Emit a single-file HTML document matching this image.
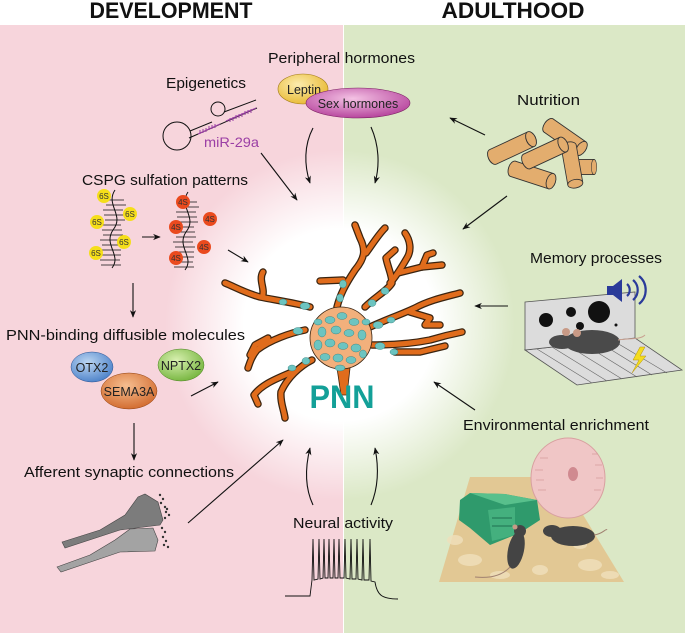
<!DOCTYPE html>
<html><head><meta charset="utf-8"><style>
html,body{margin:0;padding:0;background:#fff;}
svg{display:block;font-family:"Liberation Sans","DejaVu Sans",sans-serif;}
.l{font-size:14.5px;fill:#111;}
</style></head><body>
<svg width="685" height="634" viewBox="0 0 685 634" xmlns="http://www.w3.org/2000/svg">
<defs>
<radialGradient id="glow" cx="340" cy="325" r="175" gradientUnits="userSpaceOnUse">
<stop offset="0" stop-color="#fff" stop-opacity="1"/>
<stop offset="0.55" stop-color="#fff" stop-opacity="1"/>
<stop offset="1" stop-color="#fff" stop-opacity="0"/>
</radialGradient>
<radialGradient id="gLep" cx="0.4" cy="0.35" r="0.7"><stop offset="0" stop-color="#fcecae"/><stop offset="1" stop-color="#e8b830"/></radialGradient>
<radialGradient id="gSex" cx="0.45" cy="0.35" r="0.7"><stop offset="0" stop-color="#f4c2e4"/><stop offset="1" stop-color="#b23c98"/></radialGradient>
<radialGradient id="gOtx" cx="0.4" cy="0.35" r="0.7"><stop offset="0" stop-color="#bcd6f2"/><stop offset="1" stop-color="#4a80c8"/></radialGradient>
<radialGradient id="gSem" cx="0.45" cy="0.35" r="0.7"><stop offset="0" stop-color="#f6be90"/><stop offset="1" stop-color="#d0672a"/></radialGradient>
<radialGradient id="gNp" cx="0.4" cy="0.35" r="0.7"><stop offset="0" stop-color="#d8f0b0"/><stop offset="1" stop-color="#74b43c"/></radialGradient>
<marker id="ar" viewBox="0 0 10 10" refX="9" refY="5" markerWidth="7" markerHeight="7" orient="auto"><path d="M0,1 L10,5 L0,9 L3,5z" fill="#111"/></marker>
<g id="cyl"><ellipse cx="-20" cy="0" rx="4.5" ry="8" fill="#e3ad6e" stroke="#333" stroke-width="0.9"/><rect x="-20" y="-8" width="40" height="16" fill="#e3ad6e"/><path d="M-20,-8 H20 M-20,8 H20" stroke="#333" stroke-width="0.9"/><ellipse cx="20" cy="0" rx="4.5" ry="8" fill="#e3ad6e" stroke="#333" stroke-width="0.9"/></g>
</defs>
<rect width="685" height="634" fill="#fff"/>
<rect x="0" y="25" width="343" height="608" fill="#f7d5dc"/>
<rect x="344" y="25" width="341" height="608" fill="#dbe8c6"/>
<rect x="0" y="25" width="685" height="608" fill="url(#glow)"/>

<text x="171" y="18" text-anchor="middle" font-size="22" font-weight="bold" fill="#111" textLength="163" lengthAdjust="spacingAndGlyphs">DEVELOPMENT</text>
<text x="513" y="18" text-anchor="middle" font-size="22" font-weight="bold" fill="#111" textLength="143" lengthAdjust="spacingAndGlyphs">ADULTHOOD</text>

<text class="l" x="268" y="63" textLength="147" lengthAdjust="spacingAndGlyphs">Peripheral hormones</text>
<text class="l" x="166" y="88" textLength="80" lengthAdjust="spacingAndGlyphs">Epigenetics</text>
<text class="l" x="517" y="105" textLength="63" lengthAdjust="spacingAndGlyphs">Nutrition</text>
<text class="l" x="82" y="185" textLength="166" lengthAdjust="spacingAndGlyphs">CSPG sulfation patterns</text>
<text class="l" x="530" y="263" textLength="132" lengthAdjust="spacingAndGlyphs">Memory processes</text>
<text class="l" x="6" y="340" textLength="239" lengthAdjust="spacingAndGlyphs">PNN-binding diffusible molecules</text>
<text class="l" x="463" y="430" textLength="186" lengthAdjust="spacingAndGlyphs">Environmental enrichment</text>
<text class="l" x="24" y="477" textLength="210" lengthAdjust="spacingAndGlyphs">Afferent synaptic connections</text>
<text class="l" x="293" y="528" textLength="100" lengthAdjust="spacingAndGlyphs">Neural activity</text>

<ellipse cx="303" cy="89" rx="25" ry="15" fill="url(#gLep)" stroke="#a07818" stroke-width="0.6"/>
<text x="287" y="94" font-size="12.5" fill="#222">Leptin</text>
<ellipse cx="358" cy="103" rx="52" ry="15" fill="url(#gSex)" stroke="#7a2060" stroke-width="0.6"/>
<text x="358" y="108" font-size="12.5" fill="#222" text-anchor="middle">Sex hormones</text>

<g fill="none" stroke="#111" stroke-width="1">
<circle cx="177" cy="136" r="14"/>
<path d="M190,131 L212,122"/><path d="M189,138 L257,108"/>
<circle cx="218" cy="109" r="7"/>
<path d="M224,112 L256,100"/>
</g>
<g stroke="#9b3fa5" stroke-width="1">
<path d="M198,134 L220,124 M226,121 L256,108"/>
<path d="M200,130v4 M203,129v4 M206,128v4 M209,126v4 M212,125v4 M215,124v4 M230,118v4 M233,117v4 M236,115v4 M239,114v4 M242,113v4 M245,111v4 M248,110v4 M251,109v4"/>
</g>
<text x="204" y="147" font-size="14" fill="#9b3fa5" textLength="55" lengthAdjust="spacingAndGlyphs">miR-29a</text>

<g stroke="#111" stroke-width="1" fill="none">
<path d="M115,190 C105,205 125,215 113,230 C103,245 122,255 112,268"/>
<path d="M188,192 C178,207 198,217 186,232 C176,247 195,257 185,270"/>
</g>
<g stroke="#111" stroke-width="0.8">
<path d="M104,200h20 M106,205h20 M103,210h20 M104,215h20 M105,220h20 M101,225h20 M102,230h20 M103,235h20 M100,240h20 M102,245h20 M101,250h20 M101,255h20 M100,260h20 M101,265h20"/>
<path d="M177,202h20 M179,207h20 M176,212h20 M177,217h20 M178,222h20 M174,227h20 M175,232h20 M176,237h20 M173,242h20 M175,247h20 M174,252h20 M174,257h20 M173,262h20 M174,267h20"/>
</g>
<g font-size="8" text-anchor="middle" fill="#333">
<circle cx="104" cy="196" r="7" fill="#f5de1a"/><text x="104" y="199">6S</text>
<circle cx="130" cy="214" r="7" fill="#f5de1a"/><text x="130" y="217">6S</text>
<circle cx="97" cy="222" r="7" fill="#f5de1a"/><text x="97" y="225">6S</text>
<circle cx="124" cy="242" r="7" fill="#f5de1a"/><text x="124" y="245">6S</text>
<circle cx="96" cy="253" r="7" fill="#f5de1a"/><text x="96" y="256">6S</text>
<circle cx="183" cy="202" r="7" fill="#ea4a1e"/><text x="183" y="205">4S</text>
<circle cx="210" cy="219" r="7" fill="#ea4a1e"/><text x="210" y="222">4S</text>
<circle cx="176" cy="227" r="7" fill="#ea4a1e"/><text x="176" y="230">4S</text>
<circle cx="204" cy="247" r="7" fill="#ea4a1e"/><text x="204" y="250">4S</text>
<circle cx="176" cy="258" r="7" fill="#ea4a1e"/><text x="176" y="261">4S</text>
</g>

<ellipse cx="92" cy="367" rx="21" ry="15" fill="url(#gOtx)" stroke="#2a5090" stroke-width="0.5"/>
<text x="92" y="372" font-size="12.5" text-anchor="middle" fill="#222">OTX2</text>
<ellipse cx="181" cy="365" rx="23" ry="16" fill="url(#gNp)" stroke="#4a8020" stroke-width="0.5"/>
<text x="181" y="370" font-size="12.5" text-anchor="middle" fill="#222">NPTX2</text>
<ellipse cx="129" cy="391" rx="28" ry="18" fill="url(#gSem)" stroke="#904010" stroke-width="0.5"/>
<text x="129" y="396" font-size="12.5" text-anchor="middle" fill="#222">SEMA3A</text>

<g stroke="#111" stroke-width="1.1" fill="none" marker-end="url(#ar)">
<path d="M142,237 L160,237"/>
<path d="M228,250 L248,262"/>
<path d="M133,283 L133,317"/>
<path d="M191,396 L218,382"/>
<path d="M134,423 L134,460"/>
<path d="M188,523 L283,440"/>
<path d="M261,153 L297,200"/>
<path d="M313,128 C304,145 304,165 310,183"/>
<path d="M371,127 C379,145 380,165 375,183"/>
<path d="M485,135 L450,118"/>
<path d="M507,196 L463,229"/>
<path d="M508,306 L475,306"/>
<path d="M475,410 L434,382"/>
<path d="M313,505 C305,488 305,468 310,448"/>
<path d="M371,505 C378,488 379,468 375,448"/>
</g>

<use href="#cyl" transform="translate(565,137) rotate(35)"/>
<use href="#cyl" transform="translate(582,167) rotate(0) scale(0.6,0.95)"/>
<use href="#cyl" transform="translate(512,148) rotate(-25) scale(1.05,1)"/>
<use href="#cyl" transform="translate(532,175) rotate(18)"/>
<use href="#cyl" transform="translate(572,165) rotate(80) scale(0.95,0.95)"/>
<use href="#cyl" transform="translate(545,153) rotate(-25)"/>

<polygon points="525,350 635,338 682,370 577,385" fill="#dcdcdc" stroke="#555" stroke-width="0.8"/>
<g stroke="#666" stroke-width="0.6"><path d="M537,349 L592,383 M552,347 L607,381 M567,345 L622,379 M582,343 L637,377 M597,341 L652,375 M612,340 L667,373"/></g>
<polygon points="525,302 635,292 635,338 525,350" fill="#dcdcdc" stroke="#555" stroke-width="0.8"/>
<circle cx="546" cy="320" r="7" fill="#111"/><circle cx="571" cy="312" r="5" fill="#111"/>
<circle cx="599" cy="312" r="11" fill="#111"/><circle cx="580" cy="326" r="4" fill="#111"/><circle cx="616" cy="325" r="1.5" fill="#111"/>
<polygon points="607,286 613,286 622,279 622,302 613,295 607,295" fill="#2a3a9a"/>
<g fill="none" stroke="#2a3a9a" stroke-width="2.2"><path d="M627,284 a8,8 0 0 1 0,12"/><path d="M633,280 a13,13 0 0 1 0,20"/><path d="M639,276 a18,18 0 0 1 0,28"/></g>
<ellipse cx="592" cy="342" rx="28" ry="12" fill="#4a4a4a"/>
<ellipse cx="562" cy="342" rx="13" ry="7" fill="#4a4a4a"/>
<circle cx="566" cy="332" r="4" fill="#c89a86"/><circle cx="577" cy="333" r="4" fill="#c89a86"/>
<path d="M618,340 C630,338 640,340 645,335" stroke="#c8a090" fill="none"/>
<polygon points="640,347 633,360 639,360 632,373 646,356 640,356 645,347" fill="#f4dc1e" stroke="#b09010" stroke-width="0.5"/>

<polygon points="470,477 560,477 624,582 439,582" fill="#e2c894"/>
<g fill="#f0e0bc" opacity="0.8">
<ellipse cx="470" cy="560" rx="12" ry="6"/><ellipse cx="500" cy="575" rx="10" ry="4"/><ellipse cx="590" cy="565" rx="12" ry="6"/><ellipse cx="455" cy="540" rx="8" ry="5"/><ellipse cx="610" cy="575" rx="9" ry="4"/><ellipse cx="540" cy="570" rx="8" ry="5"/><ellipse cx="580" cy="545" rx="7" ry="4"/>
</g>
<ellipse cx="568" cy="478" rx="37" ry="40" fill="#f0c6c6" stroke="#d8a0a0" stroke-width="1"/>
<ellipse cx="573" cy="474" rx="5" ry="7" fill="#d08a90"/>
<g stroke="#d49a9a" stroke-width="0.8"><path d="M535,470h8 M536,480h8 M538,490h8 M595,465h7 M596,478h7 M594,490h7 M540,458h8 M592,454h6"/></g>
<polygon points="460,500 470,493 505,494 537,500 540,520 520,533 490,545 470,528 459,520" fill="#2f9a6c"/>
<polygon points="470,493 505,494 537,500 505,505" fill="#58c08c"/>
<polygon points="488,510 515,507 515,535 492,541" fill="#44b07e"/>
<g stroke="#1e7050" stroke-width="1"><path d="M492,518h20 M492,526h20"/></g>
<ellipse cx="516" cy="550" rx="8" ry="19" transform="rotate(12 516 550)" fill="#444"/>
<circle cx="520" cy="531" r="6" fill="#444"/>
<circle cx="515" cy="527" r="2.5" fill="#c89a86"/>
<ellipse cx="573" cy="536" rx="22" ry="10" fill="#444"/>
<ellipse cx="552" cy="531" rx="9" ry="6" fill="#444"/>
<path d="M510,567 C500,578 485,578 475,577" stroke="#a08070" fill="none"/>
<path d="M594,535 C603,534 606,528 607,530" stroke="#a08070" fill="none"/>

<polygon points="57,567 61,572 120,552 155,551 158,540 153,528 130,529 115,540 90,555" fill="#a3a3a3" stroke="#444" stroke-width="0.6"/>
<polygon points="62,542 65,548 120,530 160,525 163,520 158,502 145,494 138,497 125,515 100,530" fill="#7c7c7c" stroke="#444" stroke-width="0.6"/>
<g fill="#333">
<circle cx="160" cy="495" r="1.2"/><circle cx="163" cy="499" r="1.2"/><circle cx="161" cy="503" r="1.2"/><circle cx="165" cy="507" r="1.2"/><circle cx="166" cy="512" r="1.2"/><circle cx="169" cy="515" r="1.2"/><circle cx="165" cy="518" r="1.2"/><circle cx="162" cy="528" r="1.2"/><circle cx="165" cy="532" r="1.2"/><circle cx="163" cy="537" r="1.2"/><circle cx="166" cy="541" r="1.2"/><circle cx="164" cy="545" r="1.2"/><circle cx="168" cy="547" r="1.2"/><circle cx="167" cy="509" r="1.2"/>
</g>

<path d="M285,596 L310,596 L312,580 L313,539 L314,580 L318,579 L319,539 L320,579 L323,578 L324,539 L325,578 L328,578 L329,539 L330,578 L333,578 L334,539 L335,578 L338,578 L339,539 L340,578 L344,578 L345,539 L346,578 L350,579 L351,539 L352,579 L356,579 L357,539 L358,579 L362,580 L363,539 L364,580 L369,580 L370,539 L371,581 L375,582 C377,595 382,599 398,599" fill="none" stroke="#111" stroke-width="0.9"/>

<g fill="none" stroke-linecap="round" stroke-linejoin="round">
<g stroke="#3a2410" stroke-width="7.5">
<path d="M310,307 C295,303 275,300 260,297 C245,293 235,287 225,283"/>
<path d="M262,297 C266,290 258,280 263,272"/>
<path d="M305,330 C290,333 270,340 257,350 C252,356 250,362 248,368"/>
<path d="M268,338 L255,345 L250,355"/>
<path d="M312,360 C300,366 287,378 281,392 C280,402 284,410 285,418"/>
<path d="M292,372 C278,378 262,384 254,395 L258,404"/>
<path d="M337,307 C340,295 345,285 355,270 C365,258 366,250 360,238 L355,225"/>
<path d="M366,253 C372,245 378,235 385,228"/>
<path d="M343,280 L320,281"/>
<path d="M365,307 C375,297 388,290 392,283 C392,275 388,268 386,258 L395,250"/>
<path d="M390,283 C395,278 400,270 407,258 C412,250 410,240 405,233"/>
<path d="M398,273 L422,267 L427,255 L433,253"/>
<path d="M422,267 L442,265"/>
<path d="M370,327 C385,320 400,315 415,308 C430,300 445,297 460,293"/>
<path d="M410,312 L430,318 L425,325 L440,325"/>
<path d="M372,345 C390,345 410,344 430,340 C440,337 452,334 462,332"/>
<path d="M395,352 L420,352 L445,346"/>
</g>
<g stroke="#e06c1c" stroke-width="5">
<path d="M310,307 C295,303 275,300 260,297 C245,293 235,287 225,283"/>
<path d="M262,297 C266,290 258,280 263,272"/>
<path d="M305,330 C290,333 270,340 257,350 C252,356 250,362 248,368"/>
<path d="M268,338 L255,345 L250,355"/>
<path d="M312,360 C300,366 287,378 281,392 C280,402 284,410 285,418"/>
<path d="M292,372 C278,378 262,384 254,395 L258,404"/>
<path d="M337,307 C340,295 345,285 355,270 C365,258 366,250 360,238 L355,225"/>
<path d="M366,253 C372,245 378,235 385,228"/>
<path d="M343,280 L320,281"/>
<path d="M365,307 C375,297 388,290 392,283 C392,275 388,268 386,258 L395,250"/>
<path d="M390,283 C395,278 400,270 407,258 C412,250 410,240 405,233"/>
<path d="M398,273 L422,267 L427,255 L433,253"/>
<path d="M422,267 L442,265"/>
<path d="M370,327 C385,320 400,315 415,308 C430,300 445,297 460,293"/>
<path d="M410,312 L430,318 L425,325 L440,325"/>
<path d="M372,345 C390,345 410,344 430,340 C440,337 452,334 462,332"/>
<path d="M395,352 L420,352 L445,346"/>
</g>
</g>
<polygon points="337,368 350,368 347,395 341,395" fill="#e06c1c" stroke="#3a2410" stroke-width="0.8"/>
<circle cx="341" cy="338" r="31" fill="#f2b07c" stroke="#3a2410" stroke-width="0.8"/>
<g fill="#6cc4c0" stroke="#2a7a78" stroke-width="0.4">
<ellipse cx="330" cy="320" rx="5" ry="3.5"/><ellipse cx="342" cy="316" rx="5" ry="3.5"/><ellipse cx="354" cy="322" rx="5" ry="3.5"/><ellipse cx="322" cy="332" rx="4" ry="5"/><ellipse cx="336" cy="330" rx="5" ry="4"/><ellipse cx="349" cy="333" rx="5" ry="3.5"/><ellipse cx="362" cy="335" rx="4" ry="5"/><ellipse cx="318" cy="345" rx="4" ry="5"/><ellipse cx="330" cy="343" rx="5" ry="4"/><ellipse cx="343" cy="346" rx="5" ry="3.5"/><ellipse cx="356" cy="348" rx="5" ry="4"/><ellipse cx="325" cy="357" rx="5" ry="3.5"/><ellipse cx="338" cy="358" rx="5" ry="4"/><ellipse cx="351" cy="360" rx="5" ry="3.5"/><ellipse cx="363" cy="354" rx="3.5" ry="4"/><ellipse cx="340" cy="368" rx="5" ry="3"/><ellipse cx="366" cy="322" rx="4" ry="3"/><ellipse cx="318" cy="322" rx="4" ry="3"/>
<ellipse cx="305" cy="306" rx="5" ry="3.5"/><ellipse cx="298" cy="331" rx="5" ry="3.5"/><ellipse cx="306" cy="361" rx="4" ry="3.5"/><ellipse cx="340" cy="298" rx="3.5" ry="4"/><ellipse cx="343" cy="284" rx="3.5" ry="4"/><ellipse cx="372" cy="303" rx="4" ry="3.5"/><ellipse cx="385" cy="291" rx="4" ry="3.5"/><ellipse cx="378" cy="325" rx="5" ry="3.5"/><ellipse cx="391" cy="320" rx="4" ry="3"/><ellipse cx="380" cy="346" rx="5" ry="3.5"/><ellipse cx="394" cy="352" rx="4" ry="3"/><ellipse cx="292" cy="368" rx="4" ry="3"/><ellipse cx="283" cy="302" rx="4" ry="3"/>
</g>
<text x="342" y="408" text-anchor="middle" font-size="32" font-weight="bold" fill="#13a098" textLength="65" lengthAdjust="spacingAndGlyphs">PNN</text>
</svg>
</body></html>
